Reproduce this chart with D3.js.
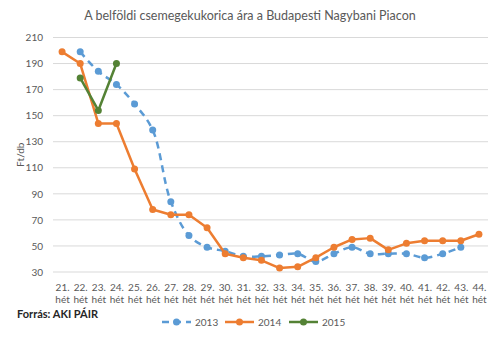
<!DOCTYPE html>
<html>
<head>
<meta charset="utf-8">
<script src="https://cdn.jsdelivr.net/npm/d3@7"></script>
<style>
  html, body { margin: 0; padding: 0; background: #fff; }
  svg { display: block; font-family: Lato, "Open Sans", sans-serif; }
</style>
</head>
<body>
<svg id="chart" width="500" height="337"></svg>
<script>
// Weekly price of sweet corn (Ft/db), weeks 21–44
const weeks = ["21.", "22.", "23.", "24.", "25.", "26.", "27.", "28.", "29.", "30.", "31.", "32.",
               "33.", "34.", "35.", "36.", "37.", "38.", "39.", "40.", "41.", "42.", "43.", "44."];
const yTicks = [30, 50, 70, 90, 110, 130, 150, 170, 190, 210];

// null = no quotation that week
const values2013 = [null, 199, 184, 174, 159, 139, 84, 58, 49, 46, 42, 42, 43, 44, 38, 44, 49, 44, 44, 44, 41, 44, 49, null];
const values2014 = [199, 190, 144, 144, 109, 78, 74, 74, 64, 44, 41, 39, 33, 34, 41, 49, 55, 56, 47, 52, 54, 54, 54, 59];
const values2015 = [null, 179, 154, 190, null, null, null, null, null, null, null, null,
                    null, null, null, null, null, null, null, null, null, null, null, null];

const seriesNames = ["2013", "2014", "2015"];
const seriesColors = ["#5B9BD5", "#ED7D31", "#548235"];
const seriesValues = [values2013, values2014, values2015];
const seriesDash = ["7,5", null, null];
// the 2013 series is drawn as a smoothed line
const seriesCurve = [d3.curveCatmullRom.alpha(0.5), d3.curveLinear, d3.curveLinear];

const svg = d3.select("#chart");
const plot = { left: 53, right: 488, top: 37.5, bottom: 272 };

const x = d3.scalePoint().domain(weeks).range([plot.left, plot.right]).padding(0.5);
const y = d3.scaleLinear().domain([30, 210]).range([plot.bottom, plot.top]);

// Title
svg.append("text")
  .attr("x", 250).attr("y", 20)
  .attr("text-anchor", "middle")
  .attr("font-size", 12.5)
  .attr("fill", "#595959")
  .text("A belföldi csemegekukorica ára a Budapesti Nagybani Piacon");

// Gridlines
svg.append("g")
  .selectAll("line")
  .data(yTicks)
  .join("line")
  .attr("x1", plot.left).attr("x2", plot.right)
  .attr("y1", d => y(d)).attr("y2", d => y(d))
  .attr("stroke", "#D9D9D9").attr("stroke-width", 1);

// Y axis labels
const yAxis = svg.append("g")
  .attr("transform", `translate(${plot.left},0)`)
  .call(d3.axisLeft(y).tickValues(yTicks).tickSize(0).tickPadding(10));
yAxis.select(".domain").remove();
yAxis.selectAll("text").attr("font-size", 10).attr("fill", "#595959")
  .attr("font-family", "Lato, 'Open Sans', sans-serif");

// X axis labels (two lines)
const xAxis = svg.append("g")
  .attr("transform", `translate(0,${plot.bottom})`)
  .call(d3.axisBottom(x).tickSize(0).tickPadding(0).tickFormat(""));
xAxis.select(".domain").remove();
xAxis.selectAll(".tick").each(function(d) {
  const t = d3.select(this).append("text")
    .attr("text-anchor", "middle")
    .attr("font-size", 10)
    .attr("fill", "#595959")
    .attr("font-family", "Lato, 'Open Sans', sans-serif");
  t.append("tspan").attr("x", 0).attr("y", 19).text(d);
  t.append("tspan").attr("x", 0).attr("y", 31).text("hét");
});

// Y axis title
svg.append("text")
  .attr("transform", `translate(24,${(plot.top + plot.bottom) / 2}) rotate(-90)`)
  .attr("text-anchor", "middle")
  .attr("font-size", 10)
  .attr("fill", "#595959")
  .text("Ft/db");

// Series lines and markers
seriesValues.forEach((vals, i) => {
  const pts = vals.map((v, j) => ({ w: weeks[j], v }));
  const line = d3.line()
    .defined(d => d.v !== null)
    .x(d => x(d.w))
    .y(d => y(d.v))
    .curve(seriesCurve[i]);
  const g = svg.append("g");
  g.append("path")
    .datum(pts)
    .attr("d", line)
    .attr("fill", "none")
    .attr("stroke", seriesColors[i])
    .attr("stroke-width", 2.5)
    .attr("stroke-linejoin", "round")
    .attr("stroke-dasharray", seriesDash[i]);
  g.selectAll("circle")
    .data(pts.filter(d => d.v !== null))
    .join("circle")
    .attr("cx", d => x(d.w))
    .attr("cy", d => y(d.v))
    .attr("r", 3.5)
    .attr("fill", seriesColors[i]);
});

// Source note
svg.append("text")
  .attr("x", 17).attr("y", 318)
  .attr("font-size", 11)
  .attr("font-weight", "bold")
  .attr("fill", "#262626")
  .text("Forrás: AKI PÁIR");

// Legend
const legendX = [162, 225, 289];
const legend = svg.append("g");
seriesNames.forEach((name, i) => {
  const lg = legend.append("g").attr("transform", `translate(${legendX[i]},322)`);
  lg.append("line")
    .attr("x1", 0).attr("x2", 29).attr("y1", 0).attr("y2", 0)
    .attr("stroke", seriesColors[i]).attr("stroke-width", 2.5)
    .attr("stroke-dasharray", seriesDash[i]);
  lg.append("circle").attr("cx", 14.5).attr("cy", 0).attr("r", 3.5).attr("fill", seriesColors[i]);
  lg.append("text")
    .attr("x", 33).attr("y", 3.5)
    .attr("font-size", 10)
    .attr("fill", "#595959")
    .text(name);
});
</script>
</body>
</html>
